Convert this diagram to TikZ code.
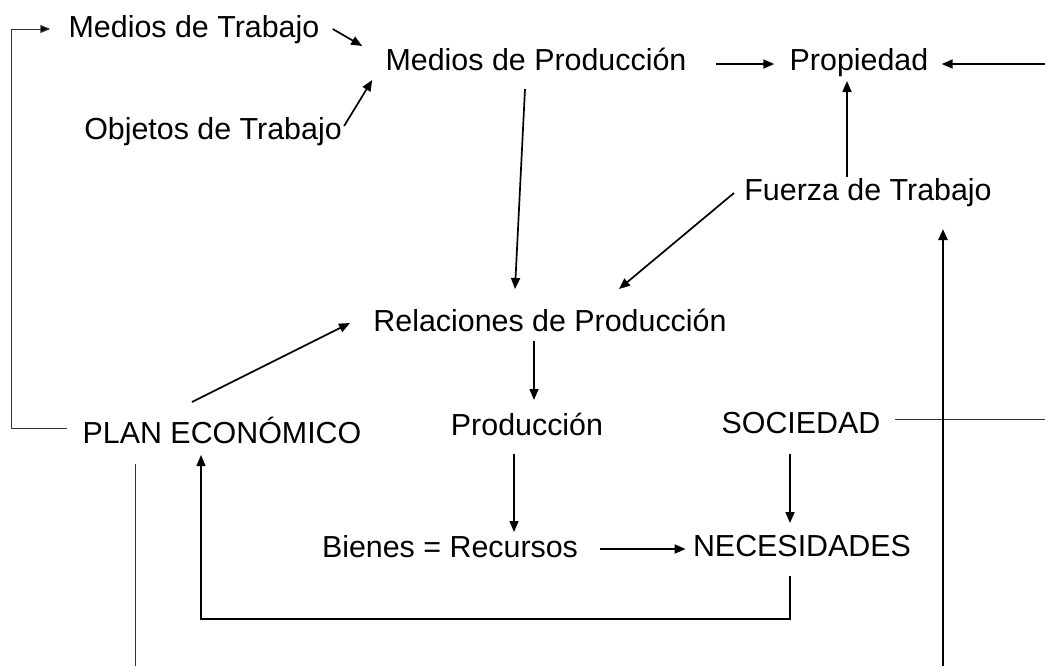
\documentclass[tikz,border=0pt]{standalone}
\usepackage{fontspec}
\setmainfont{Liberation Sans}
\usetikzlibrary{arrows.meta,positioning}

\tikzset{
  concepto/.style={font=\fontsize{15.2}{18}\selectfont, inner sep=0pt, text height=10.6pt, text depth=0pt},
  flecha/.style={-{Triangle[length=5.5pt,width=4.5pt]}, line width=0.85pt},
  linea/.style={line width=0.5pt, black!80},
}

\begin{document}
\begin{tikzpicture}[x=0.5pt, y=-0.5pt]
    \useasboundingbox (0,0) rectangle (1045,666);
    % conceptos
    \node[concepto] (mtrab) at (194,27) {Medios de Trabajo};
    \node[concepto] (mprod) at (536,60) {Medios de Producción};
    \node[concepto] (prop) at (859,60) {Propiedad};
    \node[concepto] (otrab) at (213,129) {Objetos de Trabajo};
    \node[concepto] (fuerza) at (868,190) {Fuerza de Trabajo};
    \node[concepto] (rel) at (550,321) {Relaciones de Producción};
    \node[concepto] (plan) at (222,433) {PLAN ECONÓMICO};
    \node[concepto] (prodn) at (527,425) {Producción};
    \node[concepto] (soc) at (801,423) {SOCIEDAD};
    \node[concepto] (bienes) at (450,547) {Bienes = Recursos};
    \node[concepto] (nec) at (802,546) {NECESIDADES};
    % extremos libres
    \coordinate (derprop) at (1045,64);
    \coordinate (dersoc) at (1045,419);
    \coordinate (abfuerza) at (943,666);
    \coordinate (abplan) at (135,666);
    % flechas
    \draw[linea, -{Triangle[length=5pt,width=4pt,fill=black]}] ([shift={(-15,-5)}]plan.west) -- ++(-56,0) |- ([shift={(-18,2)}]mtrab.west);
    \draw[flecha] ([shift={(13,2)}]mtrab.east) -- ([shift={(-23,-14)}]mprod.west);
    \draw[flecha] ([shift={(2,-3)}]otrab.east) -- ([shift={(-13,20)}]mprod.west);
    \draw[flecha] ([shift={(29,4)}]mprod.east) -- ([shift={(-15,4)}]prop.west);
    \draw[flecha] (derprop) -- ([shift={(13,4)}]prop.east);
    \draw[flecha] ([shift={(-21,-2)}]fuerza.north) -- ([shift={(-12,10)}]prop.south);
    \draw[flecha] ([shift={(-10,3)}]fuerza.west) -- ([shift={(69,-21)}]rel.north);
    \draw[flecha] ([shift={(-11,18)}]mprod.south) -- ([shift={(-35,-21)}]rel.north);
    \draw[flecha] ([shift={(-30,-20)}]plan.north) -- ([shift={(-23,2)}]rel.west);
    \draw[flecha] ([shift={(-16,9)}]rel.south) -- ([shift={(7,-14)}]prodn.north);
    \draw[flecha] ([shift={(-13,18)}]prodn.south) -- ([shift={(64,-4)}]bienes.north);
    \draw[flecha] ([shift={(-11,20)}]soc.south) -- ([shift={(-12,-12)}]nec.north);
    \draw[flecha] ([shift={(22,2)}]bienes.east) -- ([shift={(-7,3)}]nec.west);
    \draw[flecha, line width=0.7pt] ([shift={(-12,19)}]nec.south) -- ++(0,43) -| ([shift={(-21,11)}]plan.south);
    \draw[linea] ([shift={(14,-4)}]soc.east) -- (dersoc);
    \draw[flecha, line width=1.2pt] (abfuerza) -- ([shift={(75,28)}]fuerza.south);
    \draw[linea] ([shift={(-87,20)}]plan.south) -- (abplan);
\end{tikzpicture}
\end{document}
